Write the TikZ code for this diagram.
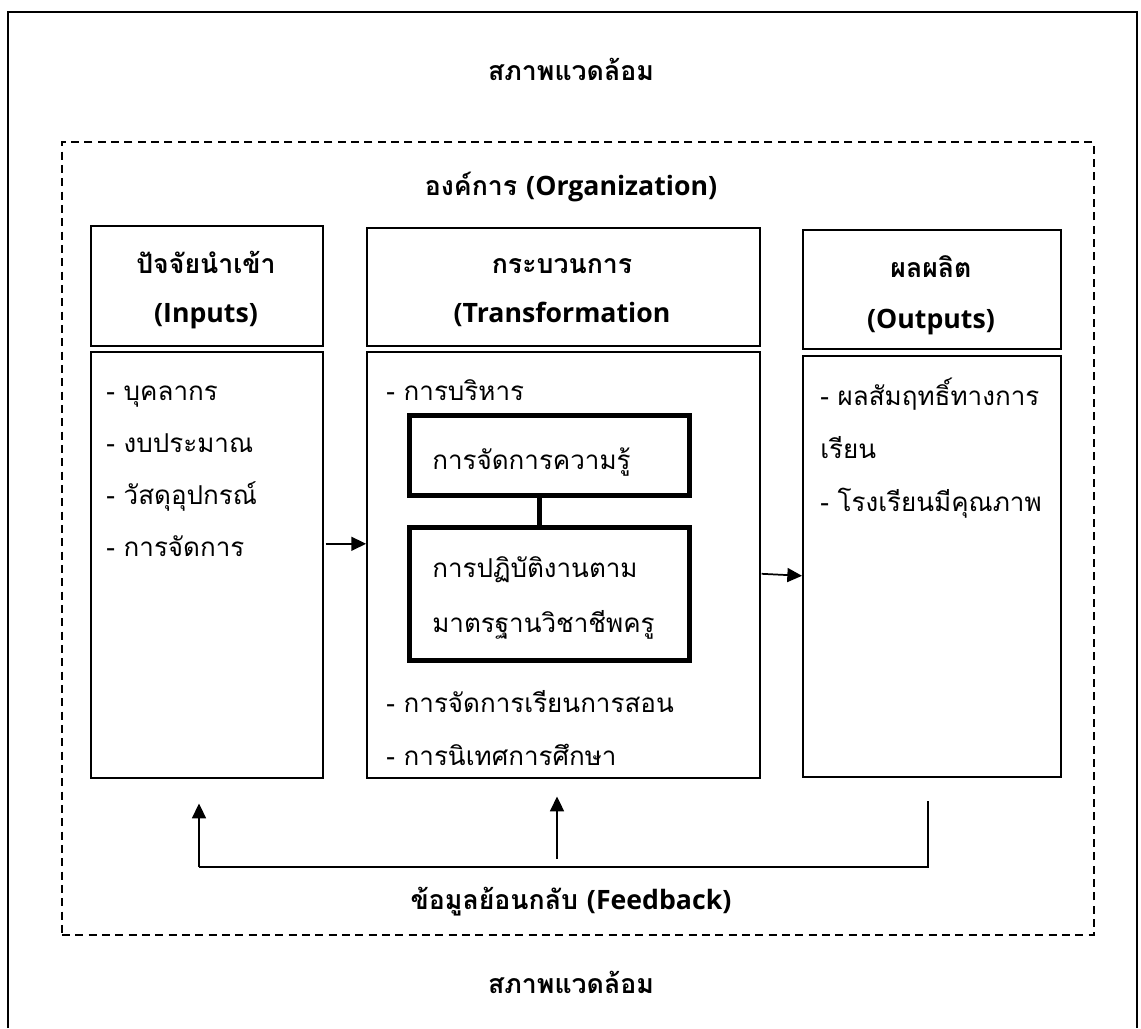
\documentclass[tikz,border=0pt]{standalone}
\usepackage{fontspec}
\setmainfont[Script=Thai]{Loma}
\newfontfamily\latf{Open Sans}
\usetikzlibrary{arrows.meta,calc}
\def\pxu{0.75pt}
\begin{document}
\begin{tikzpicture}[x=0.75pt,y=-0.75pt,
  box/.style={draw, line width=1.2pt, inner sep=0pt},
  thickbox/.style={draw, line width=3.4pt, inner sep=0pt},
  ttl/.style={font=\fontsize{20}{24}\selectfont\bfseries, inner sep=0pt, anchor=base},
  itm/.style={font=\fontsize{19.5}{23}\selectfont, inner sep=0pt, anchor=base west},
  lne/.style={line width=1.3pt},
  arr/.style={line width=1.3pt, -{Triangle[length=11pt,width=10.5pt]}},
]
\useasboundingbox (0,0) rectangle (1141,1028);
% outer frame (open at bottom)
\coordinate (fBL) at (8,1028);
\coordinate (fTL) at (8,12);
\coordinate (fTR) at (1137,12);
\coordinate (fBR) at (1137,1028);
\draw[line width=1.6pt] (fBL) -- (fTL) -- (fTR) -- (fBR);
\node[ttl] (env1) at (571,80) {สภาพแวดล้อม};
% organization (dashed)
\node[draw, line width=1.4pt, dash pattern=on 6pt off 4pt, inner sep=0pt,
      anchor=north west, minimum width=1032*\pxu, minimum height=793*\pxu] (org) at (61,141) {};
\node[ttl] (orgt) at (571,195) {องค์การ {\latf(Organization)}};
% inputs
\node[box, anchor=north west, minimum width=232*\pxu, minimum height=120*\pxu] (inH) at (90,225) {};
\node[ttl] (inT1) at (206,273) {ปัจจัยนำเข้า};
\node[ttl] (inT2) at (206,322) {\latf(Inputs)};
\node[box, anchor=north west, minimum width=232*\pxu, minimum height=426*\pxu] (inB) at (90,351) {};
\node[itm] (in1) at (106,400) {- บุคลากร};
\node[itm] (in2) at (106,452) {- งบประมาณ};
\node[itm] (in3) at (106,504) {- วัสดุอุปกรณ์};
\node[itm] (in4) at (106,556) {- การจัดการ};
% transformation
\node[box, anchor=north west, minimum width=393*\pxu, minimum height=118*\pxu] (trH) at (366,227) {};
\node[ttl] (trT1) at (562,273) {กระบวนการ};
\node[ttl] (trT2) at (562,322) {\latf(Transformation};
\node[box, anchor=north west, minimum width=393*\pxu, minimum height=426*\pxu] (trB) at (366,351) {};
\node[itm] (tr1) at (386,400) {- การบริหาร};
\node[thickbox, anchor=north west, minimum width=280*\pxu, minimum height=80*\pxu] (km) at (407,413) {};
\node[itm] (kmt) at (432,469) {การจัดการความรู้};
\node[thickbox, anchor=north west, minimum width=280*\pxu, minimum height=133*\pxu] (std) at (407,525) {};
\node[itm] (std1) at (432,577) {การปฏิบัติงานตาม};
\node[itm] (std2) at (432,632) {มาตรฐานวิชาชีพครู};
\draw[line width=3.4pt] ($(km.south)+(-10,0)$) -- ($(std.north)+(-10,0)$);
\node[itm] (tr2) at (386,712) {- การจัดการเรียนการสอน};
\node[itm] (tr3) at (386,765) {- การนิเทศการศึกษา};
% outputs
\node[box, anchor=north west, minimum width=258*\pxu, minimum height=119*\pxu] (outH) at (802,229) {};
\node[ttl] (outT1) at (931,277) {ผลผลิต};
\node[ttl] (outT2) at (931,328) {\latf(Outputs)};
\node[box, anchor=north west, minimum width=258*\pxu, minimum height=421*\pxu] (outB) at (802,355) {};
\node[itm] (out1) at (820,405) {- ผลสัมฤทธิ์ทางการ};
\node[itm] (out2) at (820,458) {เรียน};
\node[itm] (out3) at (820,511) {- โรงเรียนมีคุณภาพ};
% flow arrows
\draw[arr] ($(inB.east)+(2,-21)$) -- ($(trB.west)+(0,-21)$);
\draw[arr] ($(trB.east)+(1,9)$) -- ($(outB.west)+(0,9.5)$);
% feedback
\coordinate (fbL) at (199,867);
\coordinate (fbM) at (557,859);
\coordinate (fbR) at (928,801);
\draw[lne] (fbR) |- (fbL);
\draw[arr] (fbL) -- ($(inB.south -| fbL)+(0,25)$);
\draw[arr] (fbM) -- ($(trB.south -| fbM)+(0,18)$);
\node[ttl] (fbt) at (571,909) {ข้อมูลย้อนกลับ {\latf(Feedback)}};
\node[ttl] (env2) at (571,993) {สภาพแวดล้อม};
\end{tikzpicture}
\end{document}
